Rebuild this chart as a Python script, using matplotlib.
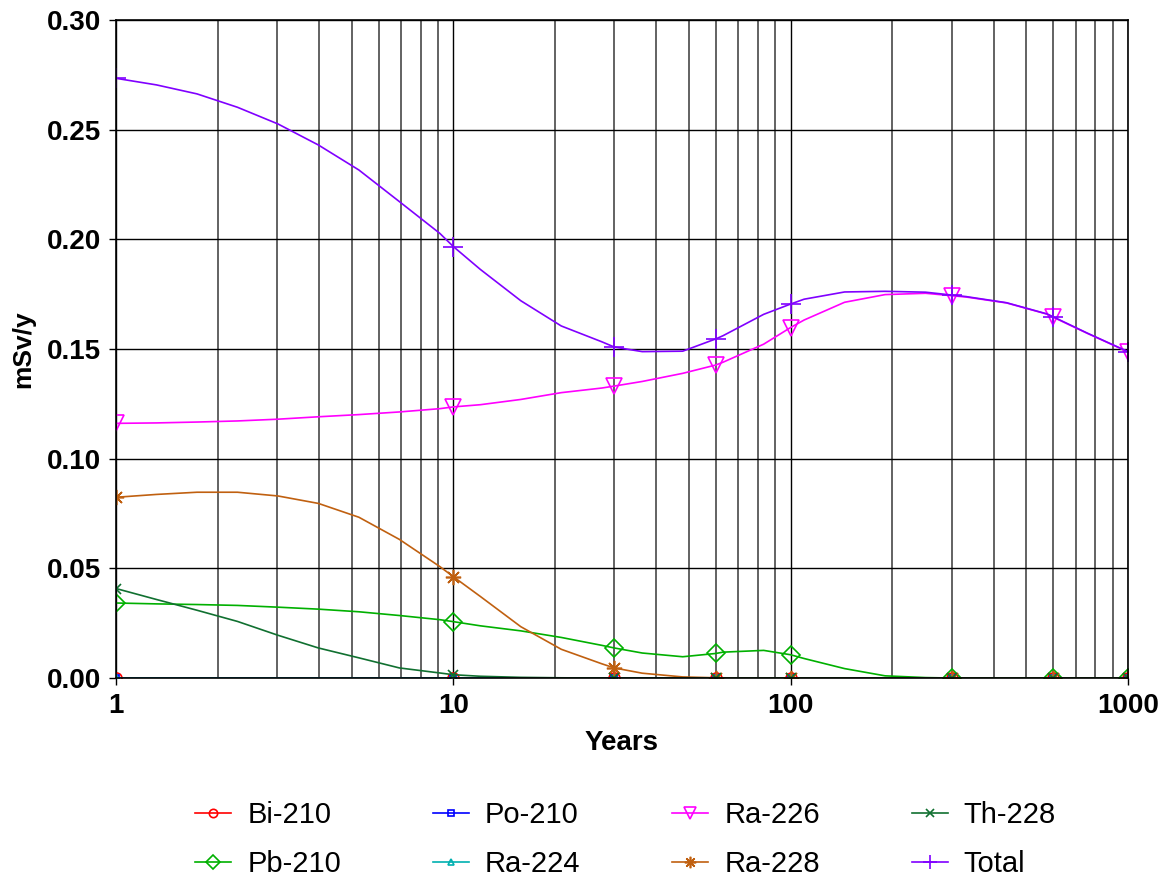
import matplotlib
matplotlib.use("Agg")
import matplotlib.pyplot as plt
from matplotlib.ticker import FixedLocator, LogLocator, NullFormatter

plt.rcParams['font.family'] = ['Liberation Sans', 'DejaVu Sans']

# time points of the dose curves (years)
years = [1, 1.318, 1.738, 2.291, 3.020, 3.981, 5.248, 6.918, 9.120, 10,
         12.02, 15.85, 20.89, 27.54, 30, 36.31, 47.86, 60, 63.10, 83.18,
         100, 109.6, 144.5, 190.5, 251.2, 300, 331.1, 436.5, 575.4, 600,
         758.6, 1000]
# times that carry a marker
marker_years = [1, 10, 30, 60, 100, 300, 600, 1000]

# dose, mSv/y
total = [0.2734, 0.2704, 0.2663, 0.2602, 0.2526, 0.2430, 0.2316, 0.2172, 0.2027, 0.1967,
         0.1863, 0.1720, 0.1605, 0.1533, 0.1509, 0.1488, 0.1490, 0.1546, 0.1561, 0.1658,
         0.1705, 0.1727, 0.1760, 0.1763, 0.1759, 0.1746, 0.1739, 0.1711, 0.1660, 0.1647,
         0.1572, 0.1488]
ra226 = [0.1161, 0.1163, 0.1167, 0.1172, 0.1180, 0.1191, 0.1201, 0.1213, 0.1228, 0.1236,
         0.1246, 0.1270, 0.1301, 0.1322, 0.1331, 0.1352, 0.1389, 0.1427, 0.1440, 0.1522,
         0.1598, 0.1632, 0.1713, 0.1748, 0.1754, 0.1743, 0.1737, 0.1710, 0.1659, 0.1645,
         0.1571, 0.1487]
ra228 = [0.0824, 0.0837, 0.0847, 0.0847, 0.0830, 0.0796, 0.0733, 0.0632, 0.0508, 0.0462,
         0.0372, 0.0234, 0.0131, 0.0065, 0.0046, 0.0022, 0.0005, 0.0001, 0.0001, 0.0,
         0.0, 0.0, 0.0, 0.0, 0.0, 0.0, 0.0, 0.0, 0.0, 0.0,
         0.0, 0.0]
th228 = [0.0408, 0.0358, 0.0309, 0.0258, 0.0195, 0.0137, 0.0092, 0.0046, 0.0023, 0.0015,
         0.0008, 0.0003, 0.0001, 0.0, 0.0, 0.0, 0.0, 0.0, 0.0, 0.0,
         0.0, 0.0, 0.0, 0.0, 0.0, 0.0, 0.0, 0.0, 0.0, 0.0,
         0.0, 0.0]
pb210 = [0.0342, 0.0338, 0.0335, 0.0331, 0.0323, 0.0314, 0.0302, 0.0285, 0.0266, 0.0257,
         0.0238, 0.0215, 0.0185, 0.0149, 0.0137, 0.0114, 0.0097, 0.0112, 0.0118, 0.0126,
         0.0106, 0.0089, 0.0043, 0.0010, 0.0002, 0.0, 0.0, 0.0, 0.0, 0.0,
         0.0, 0.0]
# these stay at zero over the whole period
bi210 = [0.0, 0.0, 0.0, 0.0, 0.0, 0.0, 0.0, 0.0]
po210 = [0.0, 0.0, 0.0, 0.0, 0.0, 0.0, 0.0, 0.0]
ra224 = [0.0, 0.0, 0.0, 0.0, 0.0, 0.0, 0.0, 0.0]

y_ticks = [0.00, 0.05, 0.10, 0.15, 0.20, 0.25, 0.30]
x_ticks = [1, 10, 100, 1000]
x_tick_labels = ["1", "10", "100", "1000"]

fig = plt.figure(figsize=(11.65, 8.76), dpi=100)
ax = fig.add_axes([0.0996, 0.2260, 0.8686, 0.7512])

marks = [years.index(t) for t in marker_years]

# name, x, y, colour, marker, size, markevery
series = [
    ("Bi-210", marker_years, bi210, "#FF0000", "o", 8, None),
    ("Pb-210", years, pb210, "#00B000", "D", 9, marks),
    ("Po-210", marker_years, po210, "#0000FF", "s", 5, None),
    ("Ra-224", marker_years, ra224, "#00B0B0", "^", 6, None),
    ("Ra-226", years, ra226, "#FF00FF", "v", 11, marks),
    ("Ra-228", years, ra228, "#C06010", (8, 2, 0), 11, marks),
    ("Th-228", years, th228, "#107030", "x", 7, marks),
    ("Total", years, total, "#8000FF", "+", 14, marks),
]

for name, xs, ys, col, mk, ms, every in series:
    ax.plot(xs, ys, color=col, lw=1.2, marker=mk, ms=ms, mfc="none",
            mec=col, mew=1.2, markevery=every, label=name)

ax.set_xscale("log")
ax.set_xlim(1, 1000)
ax.set_ylim(0, 0.30)

ax.xaxis.set_major_locator(FixedLocator(x_ticks))
ax.set_xticklabels(x_tick_labels)
ax.xaxis.set_minor_locator(LogLocator(base=10, subs=range(2, 10)))
ax.xaxis.set_minor_formatter(NullFormatter())
ax.set_yticks(y_ticks)
ax.set_yticklabels([f"{v:.2f}" for v in y_ticks])

ax.grid(True, which="major", color="black", lw=1.0)
ax.grid(True, which="minor", axis="x", color="#484848", lw=1.2)
ax.set_axisbelow(True)

ax.tick_params(axis="both", which="major", direction="out", length=5,
               width=1, labelsize=20, pad=6)
ax.tick_params(axis="x", which="minor", length=0)
for lab in ax.get_xticklabels() + ax.get_yticklabels():
    lab.set_fontweight("bold")
for sp in ax.spines.values():
    sp.set_color("black")
    sp.set_linewidth(1.2)

ax.set_xlabel("Years", fontsize=20, fontweight="bold", labelpad=8)
ax.set_ylabel("mSv/y", fontsize=19, fontweight="bold", labelpad=8)

fig.legend(loc="center", bbox_to_anchor=(0.537, 0.0415), ncol=4,
           frameon=False, fontsize=21, handlelength=1.23, handletextpad=0.55,
           columnspacing=3.15, labelspacing=0.72, markerscale=0.75)

fig.savefig("out.png", dpi=100)
